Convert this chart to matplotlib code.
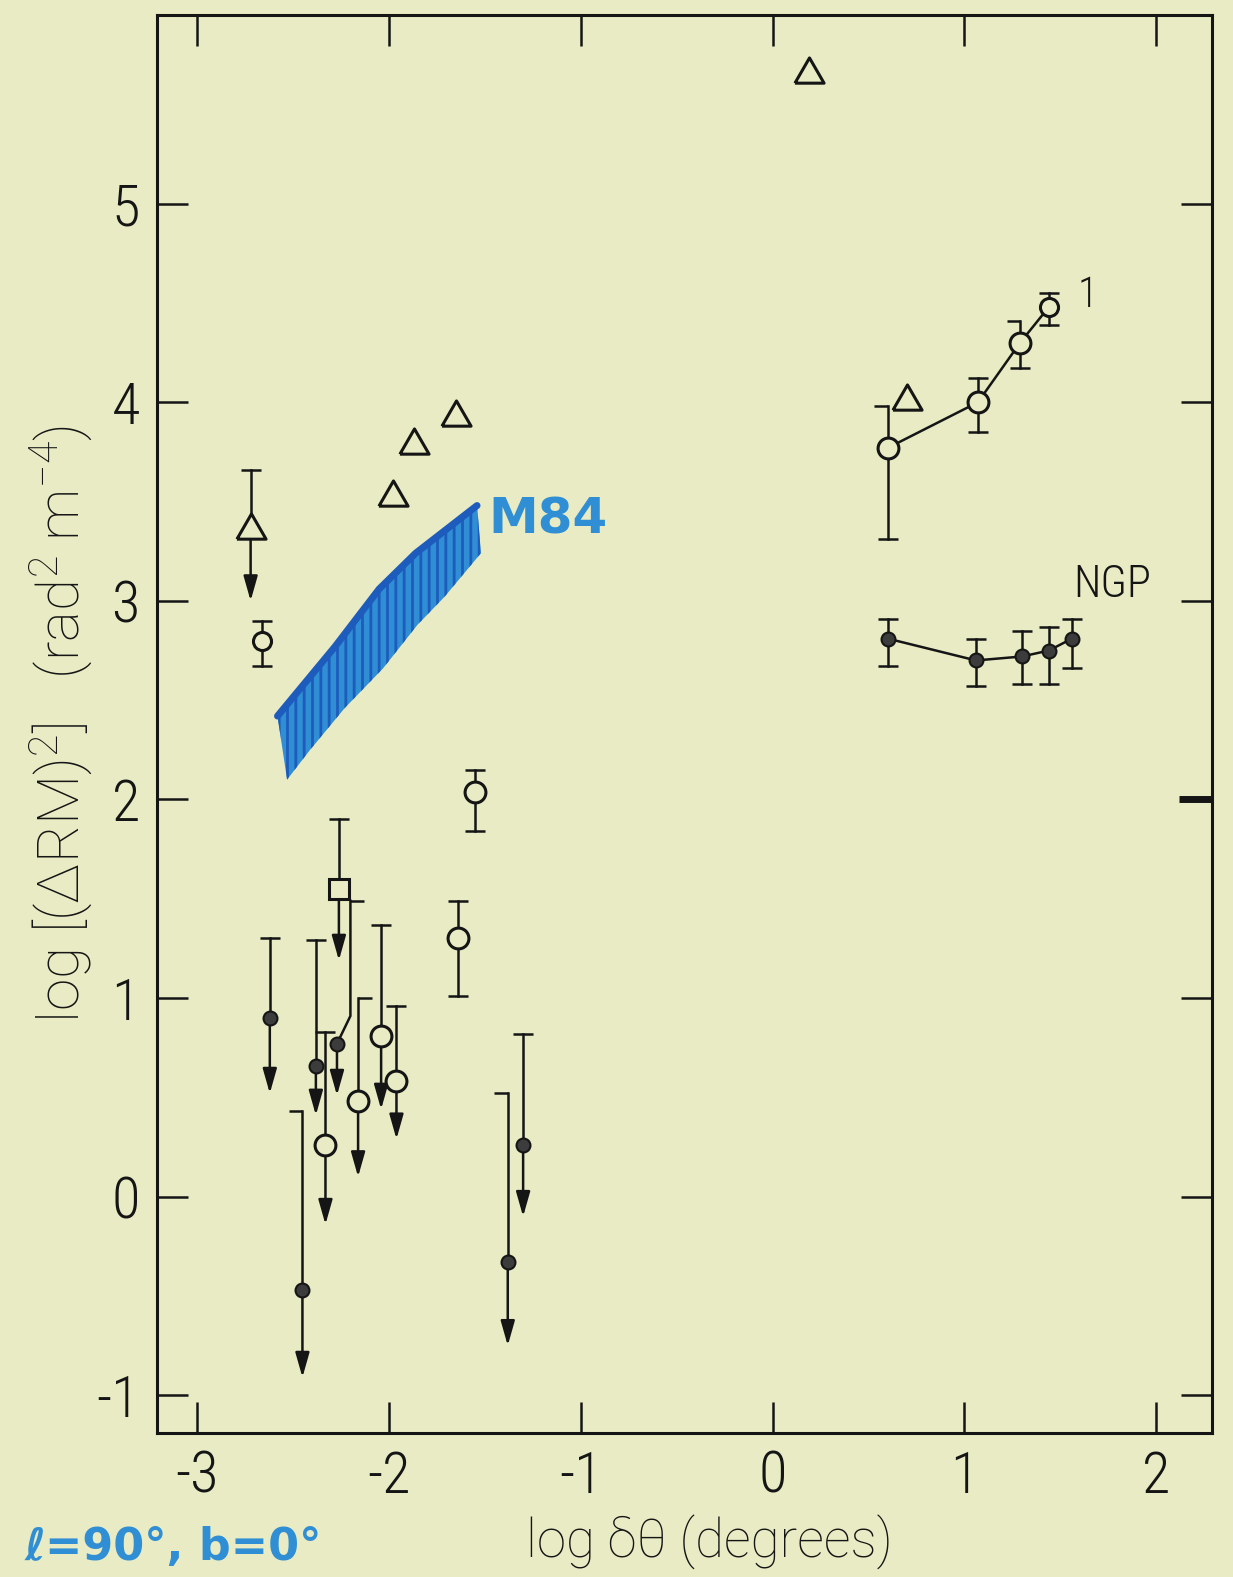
import matplotlib.pyplot as plt

plt.rcParams['font.family'] = ['Roboto Condensed', 'Roboto', 'DejaVu Sans']
plt.rcParams['font.weight'] = 'light'
plt.rcParams['mathtext.default'] = 'regular'
plt.rcParams['axes.unicode_minus'] = False
plt.rcParams['hatch.linewidth'] = 2.0

BG = '#e8ebc3'
INK = '#151515'
BLUE = '#2f8ed4'
DARKBLUE = '#1d5cbc'
LW = 1.8
CAPW = 0.052

# open triangles without error bars
tri_x = [0.19, -1.98, -1.87, -1.65, 0.70]
tri_y = [5.67, 3.54, 3.80, 3.94, 4.02]

# upper limits: marker, top of error bar, arrow down to
lim_kind = ['^', 's', 'f', 'f', 'f', 'o', 'o', 'o', 'o', 'f', 'f', 'f']
lim_x = [-2.72, -2.26, -2.62, -2.38, -2.27, -2.33, -2.16, -2.04, -1.96, -1.30, -1.38, -2.45]
lim_y = [3.37, 1.55, 0.90, 0.66, 0.77, 0.26, 0.48, 0.81, 0.58, 0.26, -0.33, -0.47]
lim_hi = [3.66, 1.90, 1.30, 1.29, 1.49, 0.83, 1.00, 1.37, 0.96, 0.82, 0.52, 0.43]
lim_lo = [3.00, 1.19, 0.52, 0.41, 0.51, -0.14, 0.10, 0.44, 0.29, -0.10, -0.75, -0.91]
lim_cap = [0, 0, 0, 0, 1, 0, 1, 0, 0, 0, -1, -1]
lim_stem = [0, 0, 0, 0, 0.07, 0, 0, 0, 0, 0, 0, 0]   # offset of bent error bar
lim_bend = [0, 0, 0, 0, 0.91, 0, 0, 0, 0, 0, 0, 0]

# single open circles with two-sided error bars
pt_x = [-2.66, -1.55, -1.64]
pt_y = [2.80, 2.04, 1.30]
pt_hi = [2.90, 2.15, 1.49]
pt_lo = [2.67, 1.84, 1.01]
pt_ms = [13, 15, 15]

# connected series labelled "1"
s1_x = [0.60, 1.07, 1.29, 1.44]
s1_y = [3.77, 4.00, 4.30, 4.48]
s1_hi = [3.98, 4.12, 4.41, 4.55]
s1_lo = [3.31, 3.85, 4.17, 4.39]
s1_cap = [-1, 0, -1, 0]
s1_ms = [15, 15, 15, 13]

# connected series NGP
ngp_x = [0.60, 1.06, 1.30, 1.44, 1.56]
ngp_y = [2.81, 2.70, 2.72, 2.75, 2.81]
ngp_hi = [2.91, 2.81, 2.85, 2.87, 2.91]
ngp_lo = [2.67, 2.57, 2.58, 2.58, 2.66]

# hand drawn M84 band
m84_top_x = [-2.58, -2.46, -2.28, -2.05, -1.86, -1.70, -1.54]
m84_top_y = [2.42, 2.56, 2.77, 3.06, 3.24, 3.36, 3.48]
m84_bot_x = [-2.53, -2.41, -2.23, -2.03, -1.85, -1.71, -1.52]
m84_bot_y = [2.10, 2.25, 2.46, 2.66, 2.88, 3.02, 3.24]

x_ticks = [-3, -2, -1, 0, 1, 2]
y_ticks = [-1, 0, 1, 2, 3, 4, 5]


def cap(ax, x, y, side):
    if side == 0:
        ax.plot([x - CAPW, x + CAPW], [y, y], color=INK, lw=LW, solid_capstyle='butt', zorder=2)
    else:
        ax.plot([x, x + side * 1.35 * CAPW], [y, y], color=INK, lw=LW, solid_capstyle='butt', zorder=2)


def marker(ax, x, y, kind, ms=15):
    tri = [(-1, -0.8), (1, -0.8), (0, 0.93), (-1, -0.8)]
    if kind == '^':
        ax.plot(x, y, marker=tri, ms=21, mfc=BG, mec=INK, mew=2.2, zorder=3)
    elif kind == 's':
        ax.plot(x, y, marker='s', ms=ms, mfc=BG, mec=INK, mew=2.2, zorder=3)
    elif kind == 'f':
        ax.plot(x, y, marker='o', ms=10, mfc='#3c3c3c', mec=INK, mew=1.5, zorder=3)
    else:
        ax.plot(x, y, marker='o', ms=ms, mfc=BG, mec=INK, mew=2.2, zorder=3)


def arrow(ax, x, y0, y1):
    ax.annotate('', xy=(x, y1), xytext=(x, y0), zorder=2,
                arrowprops=dict(arrowstyle='-|>,head_length=0.6,head_width=0.17',
                                mutation_scale=25, lw=LW, color=INK, shrinkA=0, shrinkB=0))


fig = plt.figure(figsize=(12.33, 15.77), dpi=100, facecolor=BG)
ax = fig.add_axes([0.127, 0.0913, 0.856, 0.8992])
ax.set_facecolor(BG)
ax.set_xlim(-3.21, 2.29)
ax.set_ylim(-1.19, 5.95)

# M84 band
bx = m84_top_x + m84_bot_x[::-1]
by = m84_top_y + m84_bot_y[::-1]
ax.fill(bx, by, facecolor=BLUE, edgecolor=DARKBLUE, hatch='||', lw=0, zorder=1)
ax.plot(m84_top_x, m84_top_y, color=DARKBLUE, lw=5, solid_capstyle='round', zorder=1)
ax.text(-1.17, 3.41, 'M84', color=BLUE, fontsize=36, fontweight='bold',
        family='DejaVu Sans', ha='center', va='center', zorder=1)

# triangles
for x, y in zip(tri_x, tri_y):
    marker(ax, x, y, '^')

# upper limits
for k, x, y, hi, lo, cs, dx, yb in zip(lim_kind, lim_x, lim_y, lim_hi, lim_lo,
                                         lim_cap, lim_stem, lim_bend):
    if dx:
        ax.plot([x, x + dx, x + dx], [y, yb, hi], color=INK, lw=LW, zorder=2)
        cap(ax, x + dx, hi, cs)
    else:
        ax.plot([x, x], [y, hi], color=INK, lw=LW, zorder=2)
        cap(ax, x, hi, cs)
    arrow(ax, x, y, lo)
    marker(ax, x, y, k)

# open circles with error bars
for x, y, hi, lo, ms in zip(pt_x, pt_y, pt_hi, pt_lo, pt_ms):
    ax.plot([x, x], [lo, hi], color=INK, lw=LW, zorder=2)
    cap(ax, x, hi, 0)
    cap(ax, x, lo, 0)
    marker(ax, x, y, 'o', ms)

# series 1
ax.plot(s1_x, s1_y, color=INK, lw=LW, zorder=2)
for x, y, hi, lo, cs, ms in zip(s1_x, s1_y, s1_hi, s1_lo, s1_cap, s1_ms):
    ax.plot([x, x], [lo, hi], color=INK, lw=LW, zorder=2)
    cap(ax, x, hi, cs)
    cap(ax, x, lo, 0)
    marker(ax, x, y, 'o', ms)
ax.text(1.64, 4.54, '1', fontsize=30, ha='center', va='center', color=INK)

# NGP series
ax.plot(ngp_x, ngp_y, color=INK, lw=LW, zorder=2)
for x, y, hi, lo in zip(ngp_x, ngp_y, ngp_hi, ngp_lo):
    ax.plot([x, x], [lo, hi], color=INK, lw=LW, zorder=2)
    cap(ax, x, hi, 0)
    cap(ax, x, lo, 0)
    marker(ax, x, y, 'f')
ax.text(1.77, 3.08, 'NGP', fontsize=32, ha='center', va='center', color=INK)

# axes styling
for s in ax.spines.values():
    s.set_linewidth(2.2)
    s.set_color(INK)
ax.set_xticks(x_ticks)
ax.set_yticks(y_ticks)
ax.tick_params(direction='in', length=22, width=1.8, colors=INK,
               top=True, right=True, labelsize=42, pad=12)
# heavy pen mark over the right-hand tick at 2
ax.plot([2.12, 2.29], [2.0, 2.0], color=INK, lw=5, solid_capstyle='butt', zorder=2)

fig.text(0.575, 0.022, 'log δθ (degrees)', fontsize=38, family=['Roboto', 'DejaVu Sans'],
         ha='center', va='center', color=INK)
fig.text(0.049, 0.541, 'log [(ΔRM)$^2$]   (rad$^2$ m$^{-4}$)', fontsize=42,
         family=['Roboto', 'DejaVu Sans'],
         rotation=90, ha='center', va='center', color=INK)

# handwritten note at the bottom left
fig.text(0.02, 0.019, 'ℓ=90°, b=0°', fontsize=32, fontweight='bold',
         family='DejaVu Sans', color=BLUE, ha='left', va='center')

fig.savefig('out.png', dpi=100, facecolor=BG)
